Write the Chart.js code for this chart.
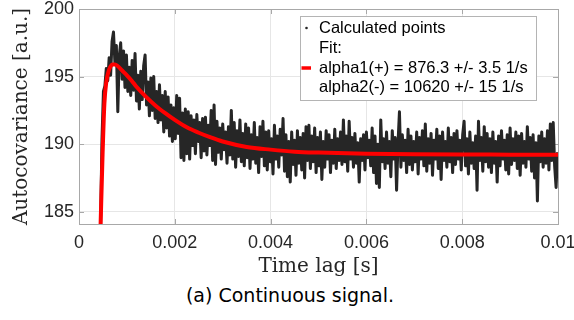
<!DOCTYPE html>
<html lang="en">
<head>
  <meta charset="UTF-8">
  <title>Autocovariance - continuous signal</title>
  <script src="https://cdn.jsdelivr.net/npm/chart.js"></script>
  <style>
    html, body { margin: 0; padding: 0; background: #fff; }
    #wrap { position: relative; width: 574px; height: 320px; }
    #chart { position: absolute; left: 0; top: 0; }
    #caption {
      position: absolute; left: 0; width: 580px; top: 284px;
      text-align: center; font-family: "DejaVu Sans", sans-serif;
      font-size: 19px; color: #000;
    }
  </style>
</head>
<body>
  <div id="wrap">
    <canvas id="chart" width="574" height="280"></canvas>
    <div id="caption">(a) Continuous signal.</div>
  </div>

  <script>
    // Sampling grid of the calculated autocovariance (time lag, s)
    const lagStart = 0.00045;
    const lagStep = 0.00003;

    // Calculated points (a.u.), one per lag step
    const calcValues = [
      184.0, 190.4, 193.9, 194.3, 195.6, 194.7, 196.4, 195.1, 197.6, 198.3,
      196.0, 197.3, 192.4, 196.5, 197.5, 194.8, 196.9, 194.2, 196.6, 193.9,
      195.7, 193.6, 196.2, 194.0, 196.7, 193.2, 195.1, 192.6, 195.4, 193.3,
      195.8, 196.6, 192.9, 194.6, 192.1, 194.9, 192.5, 195.0, 191.9, 193.9,
      191.6, 194.4, 191.8, 193.6, 190.9, 193.9, 191.2, 193.5, 190.6, 192.9,
      190.2, 192.7, 190.4, 193.6, 190.8, 193.4, 189.0, 192.3, 188.8, 192.6,
      189.3, 192.4, 188.9, 192.1, 189.9, 191.8, 189.3, 192.2, 190.2, 191.6,
      189.0, 191.9, 189.5, 192.0, 189.2, 191.4, 189.9, 192.5, 188.8, 192.9,
      188.5, 191.7, 189.4, 191.2, 188.9, 191.5, 189.6, 190.9, 188.6, 191.3,
      189.2, 192.5, 188.9, 191.6, 188.3, 191.0, 189.1, 191.8, 188.7, 190.8,
      188.4, 191.5, 189.0, 191.2, 188.2, 190.7, 188.9, 191.6, 188.6, 190.5,
      187.9, 191.3, 189.1, 191.7, 188.4, 190.9, 188.1, 191.0, 188.7, 190.4,
      187.8, 191.4, 188.9, 190.6, 188.3, 191.1, 189.2, 191.9, 188.0, 190.7,
      187.6, 190.2, 187.2, 190.9, 188.5, 190.3, 187.7, 191.0, 188.6, 190.5,
      188.1, 190.8, 187.5, 191.3, 188.8, 191.4, 188.2, 190.6, 188.7, 191.2,
      187.9, 190.5, 188.4, 190.9, 187.4, 190.2, 188.3, 191.0, 188.9, 190.7,
      187.9, 190.3, 188.6, 191.1, 188.2, 190.4, 188.8, 190.9, 188.5, 191.8,
      188.7, 190.6, 188.0, 191.7, 188.9, 190.5, 188.3, 190.8, 188.6, 190.1,
      187.2, 190.4, 188.8, 190.7, 188.1, 190.9, 189.0, 190.3, 188.4, 191.2,
      187.9, 190.6, 187.1, 190.0, 186.8, 191.8, 188.7, 190.4, 188.2, 190.9,
      188.6, 190.2, 187.6, 191.0, 188.9, 190.5, 186.6, 190.1, 192.4, 188.3,
      190.7, 188.8, 190.3, 187.9, 191.1, 188.5, 190.6, 188.1, 190.2, 188.7,
      190.9, 187.8, 190.5, 188.9, 191.0, 188.4, 191.5, 188.0, 190.4, 188.6,
      190.8, 187.7, 190.3, 188.9, 191.1, 188.2, 190.6, 187.4, 190.9, 188.8,
      190.2, 188.3, 191.2, 188.7, 190.5, 187.9, 190.8, 188.5, 191.0, 188.9,
      190.3, 188.1, 190.7, 191.7, 188.4, 190.4, 187.8, 190.9, 188.6, 190.1,
      188.2, 190.6, 186.6, 191.7, 188.8, 190.5, 188.0, 191.3, 188.7, 190.8,
      188.3, 190.4, 187.9, 190.9, 188.6, 190.2, 187.2, 190.6, 188.4, 191.0,
      188.9, 190.3, 188.1, 190.7, 187.8, 191.2, 188.5, 190.4, 188.8, 190.9,
      188.2, 190.6, 187.7, 190.8, 188.6, 190.2, 188.3, 191.3, 188.9, 190.5,
      188.0, 190.7, 187.5, 190.1, 185.8, 190.6, 188.7, 190.9, 188.3, 190.4,
      188.6, 191.0, 188.1, 191.5, 188.8, 191.6, 188.4, 186.8, 189.4
    ];

    // Fitted curve (red)
    const fitLags = [
      0.00045, 0.00049, 0.00053, 0.00057, 0.00061, 0.00065, 0.00070, 0.00075,
      0.00080, 0.00090, 0.00100, 0.00110, 0.00120, 0.00140, 0.00160, 0.00180,
      0.00200, 0.00225, 0.00250, 0.00275, 0.00300, 0.00350, 0.00400, 0.00450,
      0.00500, 0.00600, 0.00700, 0.00800, 0.00900, 0.01000
    ];
    const fitValues = [
      183.9, 189.0, 193.0, 194.6, 195.3, 195.7, 195.9, 195.9,
      195.8, 195.45, 195.1, 194.7, 194.25, 193.5, 192.85, 192.3,
      191.8, 191.25, 190.85, 190.5, 190.2, 189.8, 189.6, 189.45,
      189.38, 189.3, 189.26, 189.24, 189.23, 189.22
    ];

    // Axes
    const xTicks = [0, 0.002, 0.004, 0.006, 0.008, 0.01];
    const xTickLabels = ['0', '0.002', '0.004', '0.006', '0.008', '0.01'];
    const yTicks = [185, 190, 195, 200];
    const xRange = [0, 0.01];
    const yRange = [184.1, 200];

    // Legend text
    const calcLabel = 'Calculated points';
    const fitLines = ['Fit:', 'alpha1(+) = 876.3 +/- 3.5 1/s', 'alpha2(-) = 10620 +/- 15 1/s'];

    const calcPoints = calcValues.map((v, i) => ({ x: lagStart + i * lagStep, y: v }));
    const fitPoints = fitValues.map((v, i) => ({ x: fitLags[i], y: v }));

    const axisColor = '#a8a8a8';
    const textColor = '#262626';

    // Box around the axes, inward ticks, and the legend box
    const framePlugin = {
      id: 'frame',
      beforeDatasetsDraw(chart) {
        const { ctx, chartArea: a, scales } = chart;
        ctx.save();
        ctx.strokeStyle = axisColor;
        ctx.lineWidth = 1;
        ctx.beginPath();
        ctx.moveTo(a.left, a.top + 0.5);
        ctx.lineTo(a.right + 0.5, a.top + 0.5);
        ctx.lineTo(a.right + 0.5, a.bottom);
        ctx.stroke();
        ctx.beginPath();
        xTicks.forEach(v => {
          const px = Math.round(scales.x.getPixelForValue(v)) + 0.5;
          ctx.moveTo(px, a.bottom); ctx.lineTo(px, a.bottom - 5);
          ctx.moveTo(px, a.top); ctx.lineTo(px, a.top + 5);
        });
        yTicks.forEach(v => {
          const py = Math.round(scales.y.getPixelForValue(v)) + 0.5;
          ctx.moveTo(a.left, py); ctx.lineTo(a.left + 5, py);
          ctx.moveTo(a.right, py); ctx.lineTo(a.right - 5, py);
        });
        ctx.stroke();
        ctx.restore();
      },
      afterDraw(chart) {
        const { ctx } = chart;
        const bx = 300.5, by = 16.5, bw = 236, bh = 84;
        ctx.save();
        ctx.fillStyle = '#fff';
        ctx.fillRect(bx, by, bw, bh);
        ctx.strokeStyle = '#b4b4b4';
        ctx.lineWidth = 1;
        ctx.strokeRect(bx, by, bw, bh);

        ctx.font = '16.5px "Liberation Sans", Arial, sans-serif';
        ctx.fillStyle = '#000';
        ctx.textBaseline = 'middle';
        ctx.textAlign = 'left';
        const tx = 319;
        const rows = [28, 48, 68, 87.5];

        // marker for calculated points
        ctx.fillStyle = textColor;
        ctx.beginPath();
        ctx.arc(306.5, rows[0], 1.3, 0, Math.PI * 2);
        ctx.fill();
        ctx.fillStyle = '#000';
        ctx.fillText(calcLabel, tx, rows[0]);

        // fit entry
        ctx.fillText(fitLines[0], tx, rows[1]);
        ctx.strokeStyle = '#ff0000';
        ctx.lineWidth = 3.5;
        ctx.beginPath();
        ctx.moveTo(301.5, rows[2]);
        ctx.lineTo(311, rows[2]);
        ctx.stroke();
        ctx.fillText(fitLines[1], tx, rows[2]);
        ctx.fillText(fitLines[2], tx, rows[3]);
        ctx.restore();
      }
    };

    new Chart(document.getElementById('chart'), {
      type: 'line',
      data: {
        datasets: [
          {
            label: calcLabel,
            data: calcPoints,
            borderColor: '#262626',
            borderWidth: 3,
            borderJoinStyle: 'round',
            pointRadius: 0,
            tension: 0,
            order: 2
          },
          {
            label: 'Fit',
            data: fitPoints,
            borderColor: '#ff0000',
            borderWidth: 4,
            borderJoinStyle: 'round',
            pointRadius: 0,
            cubicInterpolationMode: 'monotone',
            order: 1
          }
        ]
      },
      options: {
        responsive: false,
        animation: false,
        devicePixelRatio: 1,
        layout: { padding: { left: 0, right: 16, top: 9, bottom: 1 } },
        plugins: {
          legend: { display: false },
          tooltip: { enabled: false }
        },
        scales: {
          x: {
            type: 'linear',
            min: xRange[0],
            max: xRange[1],
            afterBuildTicks: scale => { scale.ticks = xTicks.map(v => ({ value: v })); },
            afterFit: scale => { scale.height = 55; scale.paddingLeft = 0; scale.paddingRight = 0; },
            grid: { color: '#e6e6e6', drawTicks: false },
            border: { color: axisColor },
            ticks: {
              padding: 8,
              maxRotation: 0,
              color: textColor,
              font: { family: '"Liberation Sans", Arial, sans-serif', size: 18 },
              callback: (v, i) => xTickLabels[i]
            },
            title: {
              display: true,
              text: 'Time lag [s]',
              color: textColor,
              padding: { top: 0, bottom: 0 },
              font: { family: '"DejaVu Serif", serif', size: 20, lineHeight: 1.2 }
            }
          },
          y: {
            type: 'linear',
            min: yRange[0],
            max: yRange[1],
            afterBuildTicks: scale => { scale.ticks = yTicks.map(v => ({ value: v })); },
            afterFit: scale => { scale.width = 79; scale.paddingTop = 0; scale.paddingBottom = 0; },
            grid: { color: '#e6e6e6', drawTicks: false },
            border: { color: axisColor },
            ticks: {
              padding: 5,
              color: textColor,
              font: { family: '"Liberation Sans", Arial, sans-serif', size: 18 }
            },
            title: {
              display: true,
              text: 'Autocovariance [a.u.]',
              color: textColor,
              padding: { top: 10, bottom: 0 },
              font: { family: '"DejaVu Serif", serif', size: 20, lineHeight: 1.2 }
            }
          }
        }
      },
      plugins: [framePlugin]
    });
  </script>
</body>
</html>
